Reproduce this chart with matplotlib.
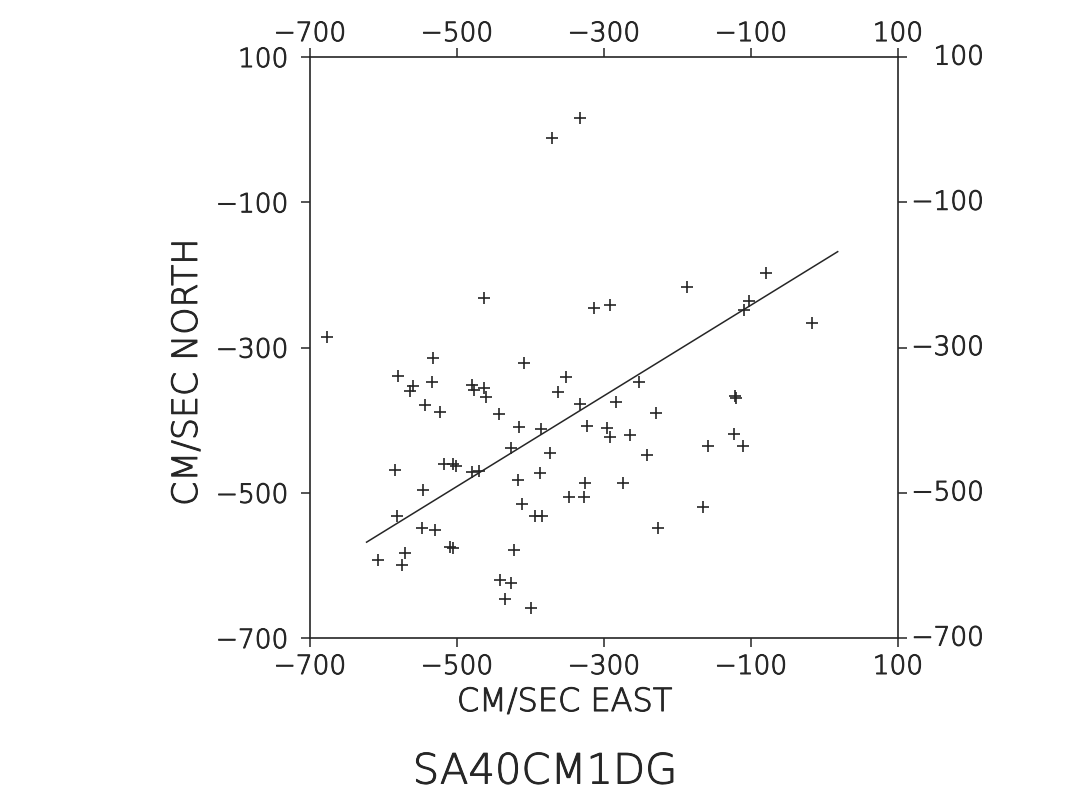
import matplotlib
matplotlib.use("Agg")
import matplotlib.pyplot as plt
import matplotlib.patheffects as pe

# current components (cm/sec), east vs north
east = [-333, -371, -463, -313, -677, -292, -187, -80, -103, -110, -17,
        -533, -409, -580, -560, -564, -534, -479, -477, -463, -460,
        -351, -362, -543, -523, -443, -333, -323, -415, -386, -427,
        -373, -584, -518, -505, -501, -480, -470, -387, -417, -546,
        -326, -347, -327, -411, -582, -394, -384, -548, -530, -509,
        -505, -571, -422, -607, -575, -442, -427, -434, -399,
        -252, -284, -229, -122, -120, -296, -292, -264, -241, -123,
        -158, -111, -274, -165, -226]
north = [16, -11, -232, -246, -285, -242, -216, -198, -236, -249, -266,
         -314, -321, -339, -353, -360, -347, -351, -359, -356, -368,
         -341, -361, -379, -389, -391, -378, -408, -410, -412, -439,
         -445, -469, -461, -461, -463, -471, -470, -473, -482, -496,
         -487, -506, -506, -515, -532, -532, -532, -549, -551, -574,
         -576, -583, -579, -593, -599, -620, -624, -646, -659,
         -348, -375, -390, -367, -370, -411, -423, -421, -448, -419,
         -436, -436, -487, -520, -548]

# fitted line end points
fit_east = [-623, 18]
fit_north = [-568, -168]

ticks = [-700, -500, -300, -100, 100]
tick_labels = ["\u2212700", "\u2212500", "\u2212300", "\u2212100", "100"]

ink = "#262626"
plt.rcParams["font.family"] = "DejaVu Sans"
plt.rcParams["font.weight"] = "light"
# thin pen strokes, a little heavier than the extra-light face
pen = [pe.withStroke(linewidth=0.7, foreground=ink)]

fig = plt.figure(figsize=(10.82, 7.92), dpi=100)
ax = fig.add_axes([0.2865, 0.1944, 0.5434, 0.7336])

ax.plot(east, north, linestyle="none", marker="+", markersize=8.5,
        markeredgewidth=1.2, color=ink)
ax.plot(fit_east, fit_north, color=ink, linewidth=1.1)

ax.set_xlim(-700, 100)
ax.set_ylim(-700, 100)
ax.set_xticks(ticks)
ax.set_xticklabels(tick_labels)
ax.set_yticks(ticks)
ax.set_yticklabels(tick_labels)
ax.tick_params(direction="out", length=6.5, width=1.1, color=ink,
               labelcolor=ink, labelsize=19,
               top=True, right=True, labeltop=False, labelright=False)
ax.tick_params(axis="x", pad=5)
ax.tick_params(axis="y", pad=9)
for lab in ax.get_xticklabels() + ax.get_yticklabels():
    lab.set_path_effects(pen)
for s in ax.spines.values():
    s.set_linewidth(1.2)
    s.set_color(ink)

# top and right labels, placed the way the plotter put them
for v, lab in zip(ticks, tick_labels):
    ax.annotate(lab, xy=(v, 1), xycoords=("data", "axes fraction"),
                xytext=(0, 11.5), textcoords="offset points",
                ha="center", va="baseline", fontsize=19, color=ink,
                path_effects=pen)
    ax.annotate(lab, xy=(1, v), xycoords=("axes fraction", "data"),
                xytext=(62, 0), textcoords="offset points",
                ha="right", va="center", fontsize=19, color=ink,
                path_effects=pen)

fig.text(0.522, 0.1136, "CM/SEC EAST", ha="center", va="center",
         fontsize=23, color=ink, path_effects=pen)
fig.text(0.1728, 0.5303, "CM/SEC NORTH", ha="center", va="center",
         rotation=90, fontsize=25, color=ink, path_effects=pen)
fig.text(0.5037, 0.0265, "SA40CM1DG", ha="center", va="center",
         fontsize=30, color=ink, path_effects=pen)

fig.savefig("out.png", dpi=100, facecolor="white")
